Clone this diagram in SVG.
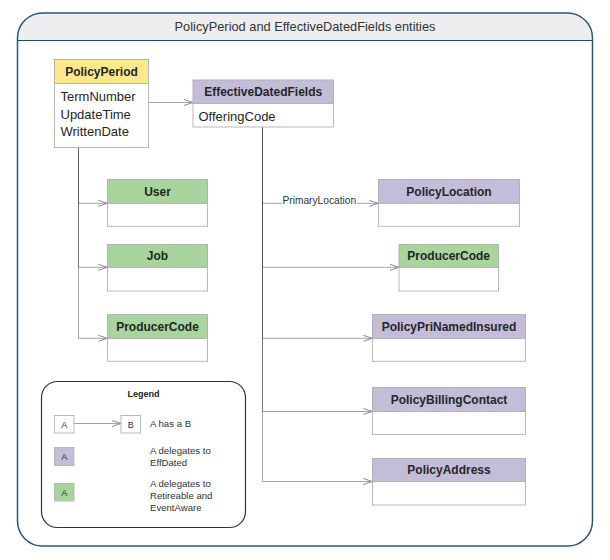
<svg xmlns="http://www.w3.org/2000/svg" width="610" height="560" viewBox="0 0 610 560">
<style>
  .hdr { stroke: #b3b3b3; stroke-width: 1; }
  .body { fill: #ffffff; stroke: #b8b8b8; stroke-width: 1; }
  .yellow { fill: #fde98c; }
  .purple { fill: #c3bdd9; }
  .green { fill: #a7d59d; }
  .ttl { font-family: "Liberation Sans", Arial, sans-serif; font-weight: bold; font-size: 12px; fill: #262626; text-anchor: middle; }
  .attr { font-family: "Liberation Sans", Arial, sans-serif; font-size: 13px; fill: #262626; }
  .conn { fill: none; stroke: #4a4a4a; stroke-opacity: 0.5; stroke-width: 1; }
  .lg { font-family: "Liberation Sans", Arial, sans-serif; font-size: 9.6px; fill: #333333; }
  .lgA { font-family: "Liberation Sans", Arial, sans-serif; font-size: 9px; fill: #333333; text-anchor: middle; }
</style>
<defs>
  <marker id="open" markerUnits="userSpaceOnUse" markerWidth="12" markerHeight="10" refX="10" refY="4" orient="auto" overflow="visible">
    <path d="M1,1 L10,4 L1,7" fill="none" stroke="#8c8c8c" stroke-width="1"/>
  </marker>
</defs>

<g id="frame">
  <path d="M17.5,40.5 V38 A25,25 0 0 1 42.5,13 H567.5 A25,25 0 0 1 592.5,38 V40.5 Z" fill="#eeeef0"/>
  <path d="M17.5,38 A25,25 0 0 1 42.5,13 H567.5 A25,25 0 0 1 592.5,38 V521 A25,25 0 0 1 567.5,546 H42.5 A25,25 0 0 1 17.5,521 Z" fill="none" stroke="#2a5874" stroke-width="1.5"/>
  <line x1="17.5" y1="40.5" x2="592.5" y2="40.5" stroke="#1f4a66" stroke-width="1.2"/>
  <text x="305" y="31" font-family="Liberation Sans, Arial, sans-serif" font-size="12.8" fill="#333333" text-anchor="middle">PolicyPeriod and EffectiveDatedFields entities</text>
</g>

<g id="connectors">
  <path class="conn" d="M147.5,102.5 H193" marker-end="url(#open)"/>
  <path class="conn" d="M78.5,147.5 V203.3 H107.3" marker-end="url(#open)"/>
  <path class="conn" d="M78.5,147.5 V267.3 H107.3" marker-end="url(#open)"/>
  <path class="conn" d="M78.5,147.5 V338.3 H107.3" marker-end="url(#open)"/>
  <path class="conn" d="M262.5,127 V203.3 H282 M357,203.3 H378.3" marker-end="url(#open)"/>
  <path class="conn" d="M262.5,127 V267.3 H399" marker-end="url(#open)"/>
  <path class="conn" d="M262.5,127 V338.3 H372.3" marker-end="url(#open)"/>
  <path class="conn" d="M262.5,127 V411.5 H372.3" marker-end="url(#open)"/>
  <path class="conn" d="M262.5,127 V481.5 H372.3" marker-end="url(#open)"/>
  <text x="282.5" y="204.3" font-family="Liberation Sans, Arial, sans-serif" font-size="10.2" fill="#333333">PrimaryLocation</text>
</g>

<g id="PolicyPeriod">
  <rect class="body" x="54.5" y="83.5" width="94" height="64"/>
  <rect class="yellow hdr" x="54.5" y="59.5" width="94" height="24"/>
  <text class="ttl" x="101.5" y="76">PolicyPeriod</text>
  <text class="attr" x="60.5" y="101">TermNumber</text>
  <text class="attr" x="60.5" y="118.5">UpdateTime</text>
  <text class="attr" x="60.5" y="136">WrittenDate</text>
</g>

<g id="EffectiveDatedFields">
  <rect class="body" x="193" y="103.5" width="140.5" height="23.5"/>
  <rect class="purple hdr" x="193" y="80" width="140.5" height="23.5"/>
  <text class="ttl" x="263.2" y="95.5">EffectiveDatedFields</text>
  <text class="attr" x="198.5" y="120.5">OfferingCode</text>
</g>

<g id="User">
  <rect class="body" x="107.5" y="203.3" width="100" height="23"/>
  <rect class="green hdr" x="107.5" y="179.5" width="100" height="23.8"/>
  <text class="ttl" x="157.5" y="196">User</text>
</g>

<g id="Job">
  <rect class="body" x="107.5" y="267.3" width="100" height="23.7"/>
  <rect class="green hdr" x="107.5" y="244.5" width="100" height="22.8"/>
  <text class="ttl" x="157.5" y="260">Job</text>
</g>

<g id="ProducerCodeLeft">
  <rect class="body" x="107.5" y="338.3" width="100" height="23"/>
  <rect class="green hdr" x="107.5" y="314.5" width="100" height="23.8"/>
  <text class="ttl" x="157.5" y="330.7">ProducerCode</text>
</g>

<g id="PolicyLocation">
  <rect class="body" x="378.5" y="203.3" width="141" height="23"/>
  <rect class="purple hdr" x="378.5" y="179.5" width="141" height="23.8"/>
  <text class="ttl" x="449" y="196">PolicyLocation</text>
</g>

<g id="ProducerCodeRight">
  <rect class="body" x="399" y="267.3" width="99.5" height="23.7"/>
  <rect class="green hdr" x="399" y="244.5" width="99.5" height="22.8"/>
  <text class="ttl" x="448.7" y="260">ProducerCode</text>
</g>

<g id="PolicyPriNamedInsured">
  <rect class="body" x="372.5" y="338.3" width="153" height="23"/>
  <rect class="purple hdr" x="372.5" y="314.5" width="153" height="23.8"/>
  <text class="ttl" x="449" y="330.7">PolicyPriNamedInsured</text>
</g>

<g id="PolicyBillingContact">
  <rect class="body" x="372.5" y="411.5" width="153" height="23"/>
  <rect class="purple hdr" x="372.5" y="387.5" width="153" height="24"/>
  <text class="ttl" x="449" y="404">PolicyBillingContact</text>
</g>

<g id="PolicyAddress">
  <rect class="body" x="372.5" y="481.5" width="153" height="23.5"/>
  <rect class="purple hdr" x="372.5" y="458.5" width="153" height="23"/>
  <text class="ttl" x="449" y="474">PolicyAddress</text>
</g>

<g id="legend">
  <rect x="41.5" y="381.5" width="204" height="146" rx="16" ry="16" fill="#ffffff" stroke="#333333" stroke-width="1.2"/>
  <text x="143.5" y="396.5" font-family="Liberation Sans, Arial, sans-serif" font-size="9" font-weight="bold" fill="#222222" text-anchor="middle">Legend</text>
  <rect x="54.5" y="415.5" width="19.5" height="17.5" fill="#ffffff" stroke="#b8b8b8"/>
  <text class="lgA" x="64.2" y="427.5">A</text>
  <path class="conn" d="M74,423.5 H121" marker-end="url(#open)"/>
  <rect x="121" y="415.5" width="19.5" height="17.5" fill="#ffffff" stroke="#b8b8b8"/>
  <text class="lgA" x="130.7" y="427.5">B</text>
  <text class="lg" x="150" y="426.5">A has a B</text>
  <rect class="purple" x="54.5" y="447.5" width="19.5" height="18" stroke="#b8b8b8"/>
  <text class="lgA" x="64.2" y="459.5">A</text>
  <text class="lg" x="150" y="454">A delegates to</text>
  <text class="lg" x="150" y="466">EffDated</text>
  <rect class="green" x="54.5" y="483.5" width="19.5" height="17.5" stroke="#b8b8b8"/>
  <text class="lgA" x="64.2" y="495.5">A</text>
  <text class="lg" x="150" y="487">A delegates to</text>
  <text class="lg" x="150" y="499">Retireable and</text>
  <text class="lg" x="150" y="511">EventAware</text>
</g>
</svg>
